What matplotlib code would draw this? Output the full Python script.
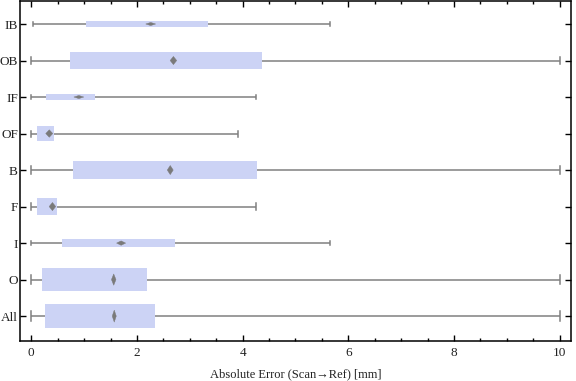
import matplotlib
matplotlib.use("Agg")
import matplotlib.pyplot as plt
from matplotlib.patches import Rectangle, Polygon
from matplotlib.ticker import MultipleLocator

# categories, top to bottom
labels = ["IB", "OB", "IF", "OF", "B", "F", "I", "O", "All"]

# whiskers (min / max), quartiles and mean in mm
whisk_lo = [0.04, 0.0, 0.0, 0.0, 0.0, 0.0, 0.0, 0.0, 0.0]
q1 = [1.04, 0.74, 0.28, 0.11, 0.79, 0.11, 0.59, 0.21, 0.25]
q3 = [3.35, 4.37, 1.21, 0.43, 4.27, 0.49, 2.72, 2.19, 2.34]
means = [2.26, 2.69, 0.90, 0.34, 2.63, 0.40, 1.70, 1.56, 1.57]
whisk_hi = [5.65, 10.0, 4.26, 3.92, 10.0, 4.26, 5.65, 10.0, 10.0]

# box thickness (in row units)
box_h = [0.17, 0.45, 0.17, 0.41, 0.50, 0.45, 0.24, 0.62, 0.66]

box_color = "#ccd3f5"
line_color = "#808080"

plt.rcParams["font.family"] = ["Liberation Serif", "DejaVu Serif"]

fig = plt.figure(figsize=(5.76, 3.81), dpi=100)
ax = fig.add_axes([20 / 576, 1 - 341.3 / 381, 550.7 / 576, 340.3 / 381])

n = len(labels)
ypos = [n - i for i in range(n)]

# px per unit, used for diamond sizing
px_x = 52.9
px_y = 36.5

for i in range(n):
    y = ypos[i]
    h = box_h[i]
    # whisker line
    ax.plot([whisk_lo[i], whisk_hi[i]], [y, y], color=line_color, lw=1.1,
            zorder=1, solid_capstyle="butt")
    # caps
    cap = max(0.11, 0.4 * h)
    for xv in (whisk_lo[i], whisk_hi[i]):
        ax.plot([xv, xv], [y - cap / 2, y + cap / 2], color=line_color,
                lw=1.1, zorder=1)
    # box
    ax.add_patch(Rectangle((q1[i], y - h / 2), q3[i] - q1[i], h,
                           facecolor=box_color, edgecolor="none", zorder=2))
    # mean diamond
    dh = 0.25 * h
    dw_px = max(4.0, 12 - 0.33 * h * px_y)
    dw = dw_px / 2 / px_x
    ax.add_patch(Polygon([(means[i] - dw, y), (means[i], y + dh),
                          (means[i] + dw, y), (means[i], y - dh)],
                         closed=True, facecolor="#7a7a7a", edgecolor="#7a7a7a",
                         lw=0.3, zorder=3))

ax.set_xlim(-0.214, 10.21)
ax.set_ylim(0.31, 9.63)
ax.set_yticks(ypos)
ax.set_yticklabels(labels)
ax.xaxis.set_major_locator(MultipleLocator(2))
ax.xaxis.set_minor_locator(MultipleLocator(0.5))

ax.tick_params(axis="both", which="both", direction="in", top=True,
               right=True, colors="black", labelcolor="#222222",
               labelsize=9.5, width=1.0)
ax.tick_params(axis="both", which="major", length=4)
ax.tick_params(axis="x", which="major", pad=4)
ax.tick_params(axis="y", which="major", pad=1.5)
ax.tick_params(axis="x", which="minor", length=2.5)
ax.tick_params(axis="y", which="minor", left=False, right=False)

for s in ax.spines.values():
    s.set_linewidth(1.1)

ax.set_xlabel("Absolute Error (Scan\u2192Ref) [mm]", fontsize=9,
              color="#222222", labelpad=7)

fig.savefig("out.png", dpi=100)
